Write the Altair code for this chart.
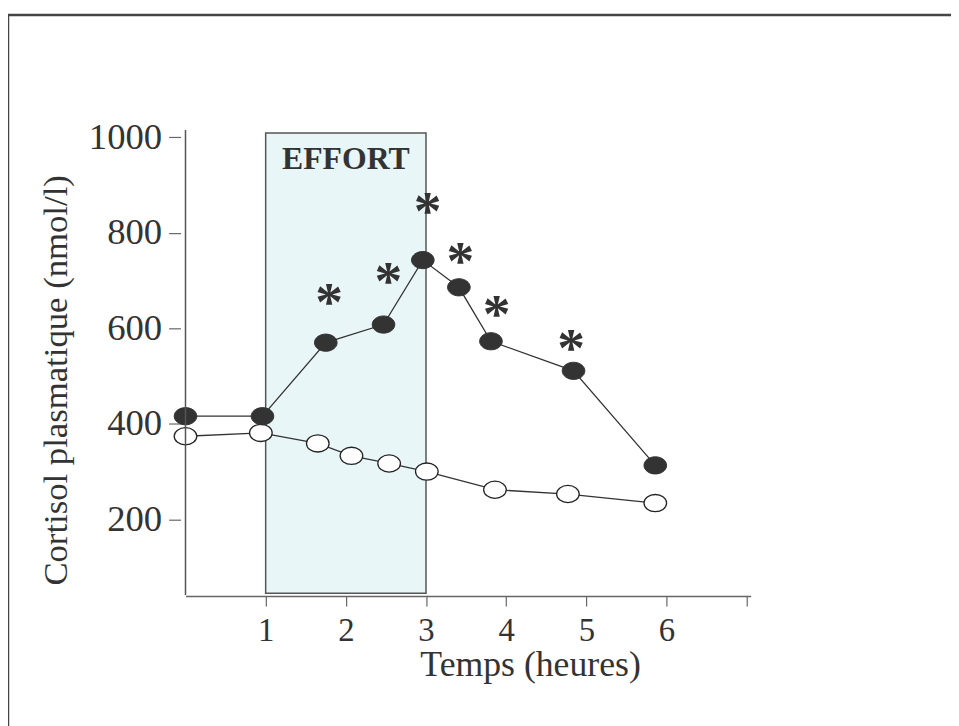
import altair as alt
import pandas as pd

# ---- data ----
hours_exercise = [0, 0.96, 1.75, 2.47, 2.96, 3.41, 3.81, 4.84, 5.86]
cortisol_exercise = [416, 416, 570, 608, 743, 686, 573, 511, 313]
hours_control = [0, 0.94, 1.65, 2.07, 2.54, 3.01, 3.86, 4.77, 5.86]
cortisol_control = [374, 381, 359, 333, 317, 300, 262, 253, 234]
star_hours = [1.79, 2.53, 3.02, 3.43, 3.88, 4.81]
star_cortisol = [669, 714, 861, 756, 644, 574]
effort_start, effort_end = 1, 3
effort_low, effort_high = 45, 1009
effort_label_hour, effort_label_cortisol = 2.0, 955
x_ticks = [1, 2, 3, 4, 5, 6, 7]
y_ticks = [200, 400, 600, 800, 1000]

FONT = "Liberation Serif"
INK = "#333333"
W, H = 570, 468

ex = pd.DataFrame({"h": hours_exercise, "c": cortisol_exercise})
ct = pd.DataFrame({"h": hours_control, "c": cortisol_control})
st = pd.DataFrame({"h": star_hours, "c": star_cortisol})
box = pd.DataFrame({"h": [effort_start], "h2": [effort_end], "c": [effort_low], "c2": [effort_high]})
lab = pd.DataFrame({"h": [effort_label_hour], "c": [effort_label_cortisol]})
one = pd.DataFrame({"a": [0]})

x_scale = alt.Scale(domain=[0, 7.05], nice=False, zero=False)
y_scale = alt.Scale(domain=[39.3, 1011.3], nice=False, zero=False)

x_axis = alt.Axis(
    values=x_ticks, title="Temps (heures)", grid=False,
    labelExpr="datum.value == 7 ? '' : datum.label",
    labelFont=FONT, labelFontSize=33, labelColor=INK, labelPadding=9,
    labelFlush=False, labelOverlap=False,
    tickSize=10, tickColor="#666666", tickWidth=1.2,
    domainColor="#666666", domainWidth=1.5,
    titleFont=FONT, titleFontSize=36, titleFontWeight="normal", titleColor=INK,
    titleX=347.5, titleY=80, titleBaseline="alphabetic", titleAlign="center",
)
y_axis = alt.Axis(
    values=y_ticks, format="d", title="Cortisol plasmatique (nmol/l)", grid=False,
    domain=False, offset=5,
    labelFont=FONT, labelFontSize=37, labelColor=INK, labelPadding=7,
    labelOverlap=False,
    tickSize=12, tickColor="#666666", tickWidth=1.2,
    titleFont=FONT, titleFontSize=35, titleFontWeight="normal", titleColor=INK,
    titleX=-126, titleY=250, titleAngle=270, titleBaseline="middle", titleAlign="center",
)

X = alt.X("h:Q", scale=x_scale, axis=x_axis)
Y = alt.Y("c:Q", scale=y_scale, axis=y_axis)

ellipse = "M-1,0A1,0.76,0,1,0,1,0A1,0.76,0,1,0,-1,0Z"

effort_box = alt.Chart(box).mark_rect(fill="#e9f6f8", stroke="#555555", strokeWidth=1.5).encode(
    x=X, x2="h2:Q", y=Y, y2="c2:Q")

effort_text = alt.Chart(lab).mark_text(
    text="EFFORT", font=FONT, fontWeight="bold", fontSize=32, color=INK, baseline="middle"
).encode(x=X, y=Y)

line_ct = alt.Chart(ct).mark_line(color=INK, strokeWidth=1.3).encode(x=X, y=Y)
line_ex = alt.Chart(ex).mark_line(color=INK, strokeWidth=1.3).encode(x=X, y=Y)

pts_ct = alt.Chart(ct).mark_point(
    shape=ellipse, size=520, filled=True, fill="white", stroke="#222222", strokeWidth=1.3, opacity=1
).encode(x=X, y=Y)
pts_ex = alt.Chart(ex).mark_point(
    shape=ellipse, size=520, filled=True, fill=INK, stroke=INK, strokeWidth=1, opacity=1
).encode(x=X, y=Y)

stars = alt.Chart(st).mark_text(
    text="*", font=FONT, fontWeight="bold", fontSize=56, color=INK, baseline="alphabetic", dy=25
).encode(x=X, y=Y)

y_line = alt.Chart(one).mark_rule(color="#555555", strokeWidth=1.5).encode(
    x=alt.value(0), y=alt.value(-2), y2=alt.value(H - 1))

frame = alt.Chart(one).mark_rect(fillOpacity=0, stroke="#444444", strokeWidth=2.5).encode(
    x=alt.value(-179), x2=alt.value(1100), y=alt.value(-118), y2=alt.value(900))

chart = alt.layer(
    effort_box, line_ct, line_ex, pts_ct, pts_ex, stars, effort_text, y_line, frame
).properties(
    width=W, height=H, autosize="none",
    padding={"left": 179, "top": 122, "right": 202, "bottom": 128},
).configure(background="white").configure_view(stroke=None)

chart.save("out.html", embed_options={"renderer": "svg", "actions": False})
